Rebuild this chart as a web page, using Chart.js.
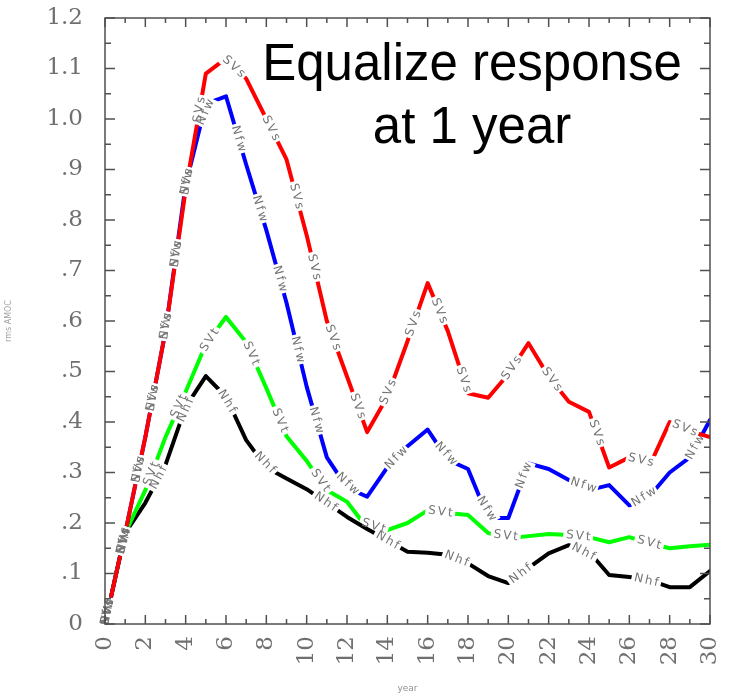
<!DOCTYPE html>
<html>
<head>
<meta charset="utf-8">
<script src="https://cdn.jsdelivr.net/npm/chart.js@4.4.1/dist/chart.umd.min.js"></script>
<style>
  body { margin: 0; background: #fff; }
  canvas { display: block; }
</style>
</head>
<body>
<canvas id="grafico" width="730" height="698"></canvas>
<script>
// data, one value per year
const years = [0, 1, 2, 3, 4, 5, 6, 7, 8, 9, 10, 11, 12, 13, 14, 15, 16, 17, 18, 19, 20, 21, 22, 23, 24, 25, 26, 27, 28, 29, 30];
const svs = [0.0, 0.18, 0.37, 0.58, 0.86, 1.09, 1.12, 1.08, 1.0, 0.92, 0.77, 0.60, 0.49, 0.38, 0.45, 0.56, 0.675, 0.58, 0.457, 0.448, 0.495, 0.556, 0.49, 0.44, 0.42, 0.31, 0.33, 0.313, 0.40, 0.382, 0.37];
const nfw = [0.0, 0.18, 0.37, 0.58, 0.87, 1.03, 1.045, 0.91, 0.78, 0.636, 0.47, 0.33, 0.27, 0.252, 0.31, 0.352, 0.385, 0.325, 0.307, 0.21, 0.21, 0.318, 0.307, 0.285, 0.265, 0.275, 0.235, 0.253, 0.30, 0.33, 0.404];
const svt = [0.0, 0.18, 0.265, 0.37, 0.46, 0.554, 0.608, 0.558, 0.467, 0.372, 0.323, 0.265, 0.242, 0.19, 0.186, 0.2, 0.225, 0.22, 0.216, 0.18, 0.17, 0.174, 0.178, 0.176, 0.172, 0.162, 0.172, 0.16, 0.15, 0.154, 0.157];
const nhf = [0.0, 0.18, 0.24, 0.315, 0.43, 0.491, 0.45, 0.364, 0.31, 0.288, 0.267, 0.24, 0.212, 0.188, 0.166, 0.143, 0.141, 0.137, 0.12, 0.095, 0.081, 0.111, 0.14, 0.156, 0.143, 0.097, 0.093, 0.087, 0.073, 0.073, 0.105];
const lineNames = ['SVs', 'Nfw', 'SVt', 'Nhf'];
const lineColors = ['#ff0000', '#0000ff', '#00ff00', '#000000'];

const xTickValues = [0, 2, 4, 6, 8, 10, 12, 14, 16, 18, 20, 22, 24, 26, 28, 30];
const xTickLabels = ['0', '2', '4', '6', '8', '10', '12', '14', '16', '18', '20', '22', '24', '26', '28', '30'];
const yTickValues = [0, 0.1, 0.2, 0.3, 0.4, 0.5, 0.6, 0.7, 0.8, 0.9, 1.0, 1.1, 1.2];
const yTickLabels = ['0', '.1', '.2', '.3', '.4', '.5', '.6', '.7', '.8', '.9', '1.0', '1.1', '1.2'];

const titleLines = ['Equalize response', 'at 1 year'];
const xTitle = 'year';
const yTitle = 'rms AMOC';

// where the line labels go along each curve
const labelPhase = 12;
const labelStep = 73;
const labelHalf = 12;

function toXY(arr) {
    return years.map((y, i) => ({ x: y, y: arr[i] }));
}

function labelSpots(pts) {
    const cum = [0];
    for (let i = 1; i < pts.length; i++) {
        cum.push(cum[i - 1] + Math.hypot(pts[i].x - pts[i - 1].x, pts[i].y - pts[i - 1].y));
    }
    const total = cum[cum.length - 1];
    function at(s) {
        s = Math.max(0, Math.min(total, s));
        let i = 1;
        while (i < cum.length - 1 && cum[i] < s) i++;
        const seg = cum[i] - cum[i - 1] || 1;
        const t = (s - cum[i - 1]) / seg;
        return { x: pts[i - 1].x + t * (pts[i].x - pts[i - 1].x), y: pts[i - 1].y + t * (pts[i].y - pts[i - 1].y) };
    }
    const spots = [];
    for (let s = labelPhase; s <= total - labelHalf; s += labelStep) {
        const a = at(s - labelHalf), b = at(s + labelHalf);
        spots.push({ x: (a.x + b.x) / 2, y: (a.y + b.y) / 2, ang: Math.atan2(b.y - a.y, b.x - a.x) });
    }
    return spots;
}

const lineLabels = {
    id: 'lineLabels',
    beforeDatasetDraw(chart, args) {
        const ctx = chart.ctx;
        const pts = args.meta.data.map(p => ({ x: p.x, y: p.y }));
        const spots = labelSpots(pts);
        args.meta._spots = spots;
        ctx.save();
        ctx.beginPath();
        ctx.rect(0, 0, chart.width, chart.height);
        const hw = labelHalf + 3, hh = 7;
        spots.forEach(sp => {
            const c = Math.cos(sp.ang), s = Math.sin(sp.ang);
            const corners = [[-hw, -hh], [hw, -hh], [hw, hh], [-hw, hh]].map(([u, v]) => [sp.x + u * c - v * s, sp.y + u * s + v * c]);
            ctx.moveTo(corners[0][0], corners[0][1]);
            for (let k = 1; k < 4; k++) ctx.lineTo(corners[k][0], corners[k][1]);
            ctx.closePath();
        });
        ctx.clip('evenodd');
    },
    afterDatasetDraw(chart, args) {
        const ctx = chart.ctx;
        ctx.restore();
        const name = lineNames[args.index];
        ctx.save();
        ctx.font = '12px "DejaVu Sans"';
        ctx.fillStyle = '#747474';
        ctx.textAlign = 'center';
        ctx.textBaseline = 'middle';
        if ('letterSpacing' in ctx) ctx.letterSpacing = '2px';
        (args.meta._spots || []).forEach(sp => {
            ctx.save();
            ctx.translate(sp.x, sp.y);
            ctx.rotate(sp.ang);
            ctx.fillText(name, 1, 0);
            ctx.restore();
        });
        ctx.restore();
    }
};

const frameAndTicks = {
    id: 'frameAndTicks',
    afterDraw(chart) {
        const ctx = chart.ctx;
        const a = chart.chartArea;
        const xs = chart.scales.x, ys = chart.scales.y;
        ctx.save();
        ctx.strokeStyle = '#505050';
        ctx.lineWidth = 1.5;
        ctx.strokeRect(a.left, a.top, a.right - a.left, a.bottom - a.top);
        ctx.beginPath();
        for (let v = 0; v <= 30; v++) {
            const px = xs.getPixelForValue(v);
            const len = v % 2 === 0 ? 9 : 5;
            ctx.moveTo(px, a.bottom); ctx.lineTo(px, a.bottom - len);
            ctx.moveTo(px, a.top); ctx.lineTo(px, a.top + len);
        }
        for (let k = 0; k <= 24; k++) {
            const py = ys.getPixelForValue(k * 0.05);
            const len = k % 2 === 0 ? 10 : 6;
            ctx.moveTo(a.left, py); ctx.lineTo(a.left + len, py);
            ctx.moveTo(a.right, py); ctx.lineTo(a.right - len, py);
        }
        ctx.stroke();

        ctx.fillStyle = '#000';
        ctx.font = '51px "Liberation Sans"';
        ctx.textAlign = 'center';
        ctx.textBaseline = 'alphabetic';
        ctx.fillText(titleLines[0], 472, 80);
        ctx.fillText(titleLines[1], 472, 143);
        ctx.restore();
    }
};

function makeSet(arr, i) {
    return {
        label: lineNames[i],
        data: toXY(arr),
        borderColor: lineColors[i],
        borderWidth: 4,
        pointRadius: 0,
        fill: false,
        tension: 0,
        borderJoinStyle: 'round',
        borderCapStyle: 'round'
    };
}

const config = {
    type: 'line',
    data: {
        datasets: [makeSet(svs, 0), makeSet(nfw, 1), makeSet(svt, 2), makeSet(nhf, 3)]
    },
    options: {
        responsive: false,
        animation: false,
        layout: { padding: { top: 18, right: 20, left: 0, bottom: 0 } },
        plugins: { legend: { display: false }, tooltip: { enabled: false }, title: { display: false } },
        scales: {
            x: {
                type: 'linear',
                min: 0,
                max: 30,
                afterBuildTicks: s => { s.ticks = xTickValues.map(v => ({ value: v })); },
                afterFit: s => { s.height = 74; s.paddingLeft = 0; s.paddingRight = 0; },
                grid: { display: false, drawTicks: false },
                border: { display: false },
                ticks: {
                    autoSkip: false,
                    minRotation: 90,
                    maxRotation: 90,
                    padding: 12,
                    color: '#707070',
                    font: { family: 'DejaVu Serif', size: 23 },
                    callback: (v, i) => xTickLabels[i]
                },
                title: { display: true, text: xTitle, color: '#909090', font: { family: 'DejaVu Sans', size: 9 }, padding: 4 }
            },
            y: {
                type: 'linear',
                min: 0,
                max: 1.2,
                afterBuildTicks: s => { s.ticks = yTickValues.map(v => ({ value: v })); },
                afterFit: s => { s.width = 105; s.paddingTop = 0; s.paddingBottom = 0; },
                grid: { display: false, drawTicks: false },
                border: { display: false },
                ticks: {
                    padding: 22,
                    color: '#707070',
                    font: { family: 'DejaVu Serif', size: 23 },
                    callback: (v, i) => yTickLabels[i]
                },
                title: { display: true, text: yTitle, color: '#a0a0a0', font: { family: 'DejaVu Sans', size: 8 }, padding: 4 }
            }
        }
    },
    plugins: [lineLabels, frameAndTicks]
};

new Chart(document.getElementById('grafico'), config);
</script>
</body>
</html>
